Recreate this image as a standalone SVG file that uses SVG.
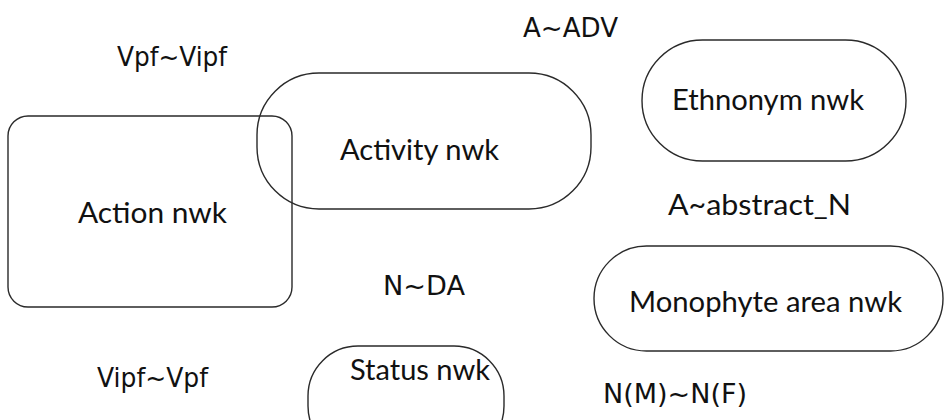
<svg xmlns="http://www.w3.org/2000/svg" width="945" height="420" viewBox="0 0 945 420">
<style>
.box{fill:none;stroke:#2a2a2a;stroke-width:1.4}
.t{font-family:Lato,"Open Sans","Liberation Sans",sans-serif;font-size:28px;fill:#111}
.v{font-family:"DejaVu Sans",Verdana,sans-serif;font-size:27px;fill:#111}
</style>
<rect width="945" height="420" fill="#fff"/>
<g id="connectors"></g>
<g id="action">
<rect class="box" x="8" y="116" width="284" height="191" rx="20"/>
<text class="t" x="78" y="223" textLength="149" lengthAdjust="spacingAndGlyphs">Action nwk</text>
</g>
<g id="activity">
<rect class="box" x="257" y="73" width="334" height="136" rx="62"/>
<text class="t" x="340" y="160" textLength="159" lengthAdjust="spacingAndGlyphs">Activity nwk</text>
</g>
<g id="ethnonym">
<rect class="box" x="642" y="40" width="264" height="121" rx="60.5"/>
<text class="t" x="672" y="110" textLength="192" lengthAdjust="spacingAndGlyphs">Ethnonym nwk</text>
</g>
<g id="monophyte">
<rect class="box" x="594" y="246" width="349" height="105" rx="52.5"/>
<text class="t" x="629" y="312" textLength="273" lengthAdjust="spacingAndGlyphs">Monophyte area nwk</text>
</g>
<g id="status">
<rect class="box" x="308" y="346" width="196" height="110" rx="50"/>
<text class="t" x="350" y="380" textLength="140" lengthAdjust="spacingAndGlyphs">Status nwk</text>
</g>
<g id="labels">
<text class="v" x="117" y="66" textLength="110" lengthAdjust="spacingAndGlyphs">Vpf~Vipf</text>
<text class="v" x="523" y="37" textLength="95" lengthAdjust="spacingAndGlyphs">A~ADV</text>
<text class="t" x="668" y="215" textLength="183" lengthAdjust="spacingAndGlyphs">A~abstract_N</text>
<text class="v" x="383" y="295" textLength="82" lengthAdjust="spacingAndGlyphs">N~DA</text>
<text class="v" x="97" y="387" textLength="111" lengthAdjust="spacingAndGlyphs">Vipf~Vpf</text>
<text class="v" x="603" y="403" textLength="144" lengthAdjust="spacingAndGlyphs">N(M)~N(F)</text>
</g>
</svg>
